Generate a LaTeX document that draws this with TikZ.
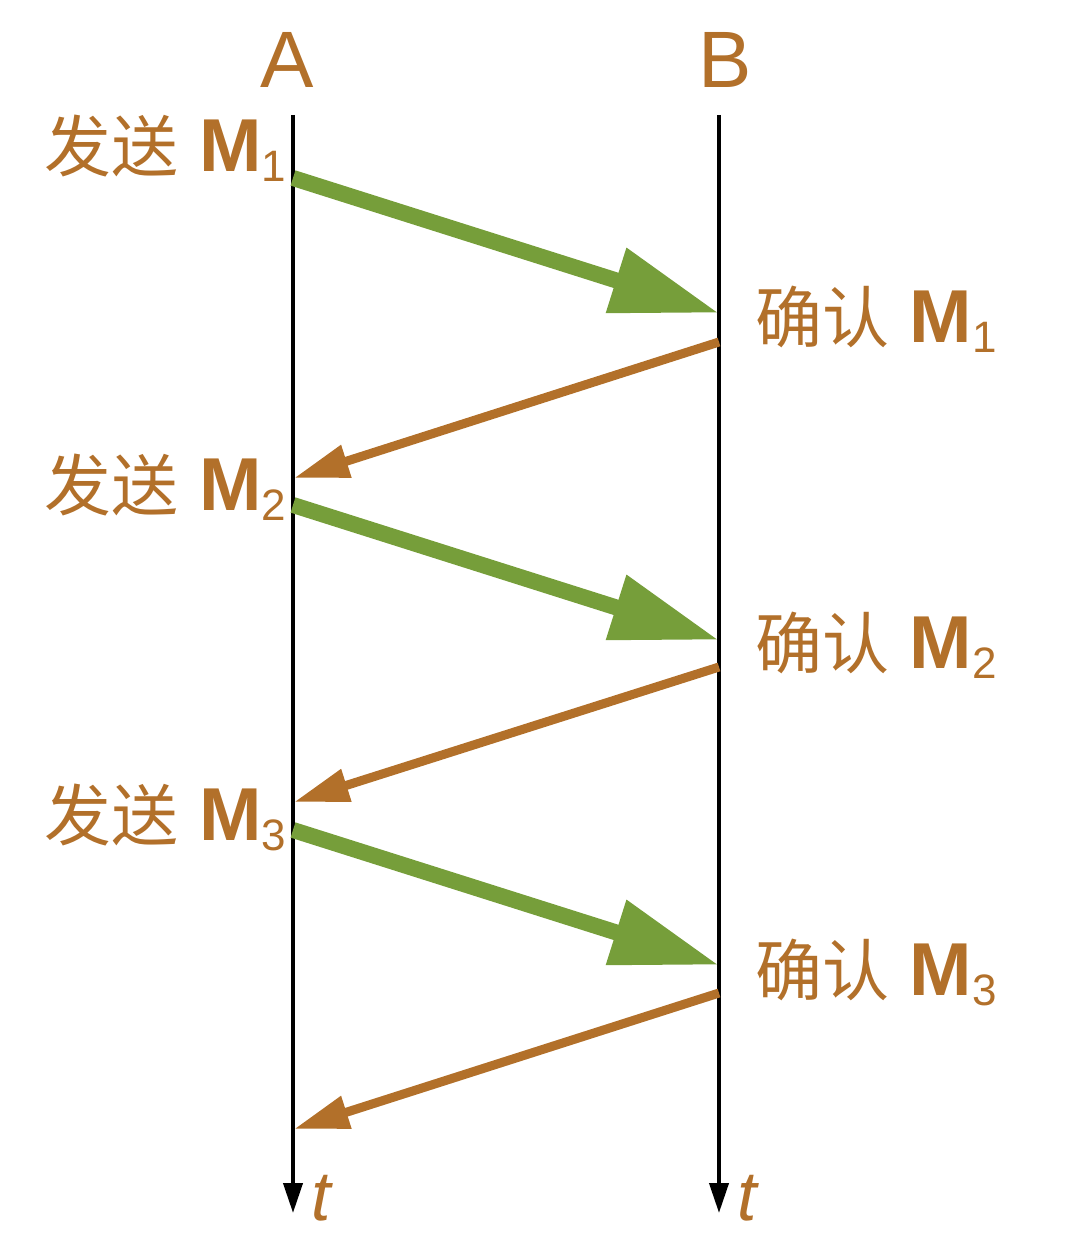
\documentclass[tikz,border=0pt]{standalone}
\usepackage{fontspec}
\setmainfont{Liberation Sans}
\newfontfamily\cjk{Noto Sans CJK SC}
\usetikzlibrary{arrows.meta}
\definecolor{tbrown}{RGB}{178,112,42}
\definecolor{tgreen}{RGB}{118,158,58}
\newcommand{\mylabel}[2]{{\cjk\fontsize{67}{67}\selectfont #1}{\fontsize{75}{75}\selectfont\ \textbf{M}}\raisebox{-10pt}{\fontsize{44}{44}\selectfont #2}}
\begin{document}
\begin{tikzpicture}[x=1pt,y=-1pt,
  axis/.style={line width=4pt,black,-{Triangle[length=30pt,width=19pt]}},
  msg/.style={line width=16pt,tgreen,-{Triangle[length=108pt,width=64pt]}},
  ack/.style={line width=9pt,tbrown,-{Triangle[length=55pt,width=32pt]}},
  lab/.style={text=tbrown,inner sep=0pt,outer sep=0pt},
  ttl/.style={text=tbrown,inner sep=0pt,font=\fontsize{80}{80}\selectfont}]
\useasboundingbox (0,0) rectangle (1084,1246);
% axes
\coordinate (a0) at (293,115);
\coordinate (a1) at (293,1213);
\coordinate (b0) at (719,115);
\coordinate (b1) at (719,1213);
\draw[axis] (a0) -- (a1);
\draw[axis] (b0) -- (b1);
\node[ttl,anchor=base] (A) at (287,88) {A};
\node[ttl,anchor=base] (B) at (725,88) {B};
\node[lab,anchor=base west,font=\fontsize{70}{70}\selectfont\itshape] (tA) at (311,1220) {t};
\node[lab,anchor=base west,font=\fontsize{70}{70}\selectfont\itshape] (tB) at (737,1220) {t};
% points
\coordinate (s1) at (293,178);
\coordinate (r1) at (719,313);
\coordinate (k1) at (719,342);
\coordinate (e1) at (294,478);
\coordinate (s2) at (293,505);
\coordinate (r2) at (719,640);
\coordinate (k2) at (719,667);
\coordinate (e2) at (294,802);
\coordinate (s3) at (293,830);
\coordinate (r3) at (719,965);
\coordinate (k3) at (719,993);
\coordinate (e3) at (294,1129);
\draw[msg] (s1) -- (r1);
\draw[ack] (k1) -- (e1);
\draw[msg] (s2) -- (r2);
\draw[ack] (k2) -- (e2);
\draw[msg] (s3) -- (r3);
\draw[ack] (k3) -- (e3);
% labels
\node[lab,anchor=base east] (l1) at (286,172) {\mylabel{发送}{1}};
\node[lab,anchor=base east] (l2) at (286,510) {\mylabel{发送}{2}};
\node[lab,anchor=base east] (l3) at (286,840) {\mylabel{发送}{3}};
\node[lab,anchor=base west] (m1) at (755,342) {\mylabel{确认}{1}};
\node[lab,anchor=base west] (m2) at (755,668) {\mylabel{确认}{2}};
\node[lab,anchor=base west] (m3) at (755,995) {\mylabel{确认}{3}};
\end{tikzpicture}
\end{document}
